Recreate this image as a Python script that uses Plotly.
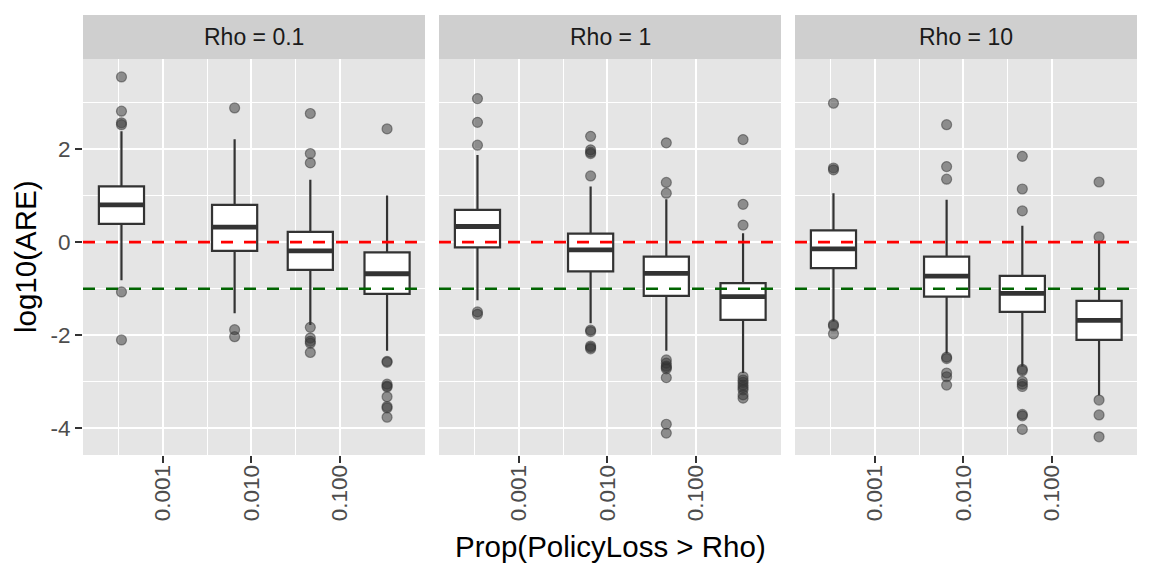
"""Boxplots of log10(ARE) against Prop(PolicyLoss > Rho), one panel per Rho"""
import numpy as np
import plotly.graph_objs as go
from plotly.subplots import make_subplots

# x: proportion of policies with loss > rho (same four groups in each panel)
PROP = [0.00034, 0.00645, 0.0462, 0.340]
X_TICKS = [0.001, 0.01, 0.1]
X_TICK_TEXT = ['0.001', '0.010', '0.100']
Y_TICKS = [-4, -2, 0, 2]
Y_TICK_TEXT = ['-4', '-2', '0', '2']

PANELS = ['Rho = 0.1', 'Rho = 1', 'Rho = 10']

# box statistics of log10(ARE), per panel
Q1_R01 = [0.39, -0.19, -0.595, -1.11]
MED_R01 = [0.80, 0.32, -0.19, -0.68]
Q3_R01 = [1.195, 0.80, 0.22, -0.22]
LO_R01 = [-0.82, -1.53, -1.78, -2.33]
HI_R01 = [2.38, 2.21, 1.34, 1.00]
OUT_R01 = [
    [3.545, 2.81, 2.56, 2.52, -1.07, -2.10],
    [2.88, -1.88, -2.03],
    [2.76, 1.90, 1.70, -1.83, -2.06, -2.13, -2.17, -2.37],
    [2.43, -2.56, -2.58, -3.05, -3.09, -3.11, -3.32, -3.53, -3.56, -3.76],
]

Q1_R1 = [-0.115, -0.63, -1.155, -1.67]
MED_R1 = [0.335, -0.165, -0.67, -1.17]
Q3_R1 = [0.69, 0.18, -0.31, -0.88]
LO_R1 = [-1.25, -1.74, -2.33, -2.81]
HI_R1 = [1.87, 1.195, 0.92, 0.19]
OUT_R1 = [
    [3.08, 2.57, 2.08, -1.50, -1.55],
    [2.27, 1.98, 1.93, 1.90, 1.42, -1.89, -1.92, -2.23, -2.26, -2.29],
    [2.13, 1.28, 1.05, -2.53, -2.60, -2.66, -2.69, -2.72, -2.91, -3.91, -4.10],
    [2.20, 0.81, 0.365, -2.89, -2.96, -3.01, -3.07, -3.12, -3.17, -3.28, -3.35],
]

Q1_R10 = [-0.56, -1.17, -1.50, -2.10]
MED_R10 = [-0.145, -0.73, -1.10, -1.68]
Q3_R10 = [0.25, -0.31, -0.725, -1.26]
LO_R10 = [-1.70, -2.385, -2.67, -3.29]
HI_R10 = [1.05, 0.91, 0.35, 0.03]
OUT_R10 = [
    [2.98, 1.59, 1.55, -1.77, -1.80, -1.97],
    [2.52, 1.62, 1.35, -2.47, -2.50, -2.81, -2.89, -3.07],
    [1.84, 1.14, 0.67, -2.73, -2.76, -2.99, -3.05, -3.10, -3.70, -3.73, -4.02],
    [1.29, 0.11, -3.39, -3.71, -4.18],
]

STATS = [
    (Q1_R01, MED_R01, Q3_R01, LO_R01, HI_R01, OUT_R01),
    (Q1_R1, MED_R1, Q3_R1, LO_R1, HI_R1, OUT_R1),
    (Q1_R10, MED_R10, Q3_R10, LO_R10, HI_R10, OUT_R10),
]

REF_LINES = [(0, 'red'), (-1, 'darkgreen')]

BOX_WIDTH = 0.51  # in log10 units
FONT = 'Liberation Sans, Arial, Helvetica, sans-serif'

pos = np.log10(PROP)

fig = make_subplots(rows=1, cols=3, shared_yaxes=True,
                    horizontal_spacing=14 / 1054)

for i, (q1, med, q3, lo, hi, out) in enumerate(STATS):
    col = i + 1
    sfx = '' if col == 1 else str(col)
    fig.add_trace(go.Box(
        x=pos, q1=q1, median=med, q3=q3, lowerfence=lo, upperfence=hi,
        width=BOX_WIDTH, fillcolor='white',
        line=dict(color='#333333', width=2.2),
        whiskerwidth=0, boxpoints=False, hoverinfo='skip'
    ), 1, col)

    # thick median bar, as ggplot draws it
    mx, my = [], []
    for p, m in zip(pos, med):
        mx += [p - BOX_WIDTH / 2, p + BOX_WIDTH / 2, None]
        my += [m, m, None]
    fig.add_trace(go.Scatter(
        x=mx, y=my, mode='lines',
        line=dict(color='#333333', width=4.8), hoverinfo='skip'
    ), 1, col)

    ox, oy = [], []
    for p, vals in zip(pos, out):
        ox += [p] * len(vals)
        oy += vals
    fig.add_trace(go.Scatter(
        x=ox, y=oy, mode='markers',
        marker=dict(size=10, color='rgba(51,51,51,0.5)',
                    line=dict(color='rgba(51,51,51,0.5)', width=1.2))
    ), 1, col)

    for yv, colour in REF_LINES:
        fig.add_hline(y=yv, line=dict(color=colour, width=2.6, dash='12px,11px'),
                      row=1, col=col)

    # facet strip
    fig.add_shape(type='rect', xref='x%s domain' % sfx, yref='y%s domain' % sfx,
                  x0=0, x1=1, y0=1, y1=1 + 44 / 396,
                  fillcolor='#CFCFCF', line_width=0)
    fig.add_annotation(text=PANELS[i], xref='x%s domain' % sfx,
                       yref='paper', x=0.5, y=1 + 22 / 396, showarrow=False,
                       xanchor='center', yanchor='middle',
                       font=dict(size=23, color='#1A1A1A'))

fig.update_xaxes(
    range=[-3.903, -0.04],
    tickvals=np.log10(X_TICKS), ticktext=X_TICK_TEXT, tickangle=-90,
    ticks='outside', ticklen=7, tickwidth=1.5, tickcolor='#333333',
    tickfont=dict(size=22.5, color='#4D4D4D'), ticklabelstandoff=-7,
    showgrid=True, gridcolor='white', gridwidth=2.1, zeroline=False,
    minor=dict(tickvals=np.log10(X_TICKS) - 0.5, showgrid=True,
               gridcolor='white', gridwidth=1.1, ticks=''),
)
fig.update_yaxes(
    range=[-4.57, 3.93],
    tickvals=Y_TICKS, ticktext=Y_TICK_TEXT,
    ticks='outside', ticklen=7, tickwidth=1.5, tickcolor='#333333',
    tickfont=dict(size=22.5, color='#4D4D4D'),
    showgrid=True, gridcolor='white', gridwidth=2.1, zeroline=False,
    minor=dict(tickvals=[-3, -1, 1, 3], showgrid=True,
               gridcolor='white', gridwidth=1.1, ticks=''),
)
fig.update_yaxes(ticks='', showticklabels=False, row=1, col=2)
fig.update_yaxes(ticks='', showticklabels=False, row=1, col=3)

fig.add_annotation(text='Prop(PolicyLoss > Rho)', xref='paper', yref='paper',
                   x=0.5, y=-73 / 396, xanchor='center', yanchor='top',
                   showarrow=False, font=dict(size=29.5, color='black'))
fig.add_annotation(text='log10(ARE)', xref='paper', yref='paper',
                   x=-58 / 1054, y=0.5, xanchor='center', yanchor='middle',
                   textangle=-90, showarrow=False,
                   font=dict(size=29.5, color='black'))

fig.update_layout(
    width=1152, height=576,
    margin=dict(l=83, r=15, t=59, b=121),
    plot_bgcolor='#E5E5E5', paper_bgcolor='white',
    showlegend=False,
    font=dict(family=FONT),
)

fig.write_html("out.html", config=dict(displayModeBar=False),
               post_script="document.body.style.margin='0';")
